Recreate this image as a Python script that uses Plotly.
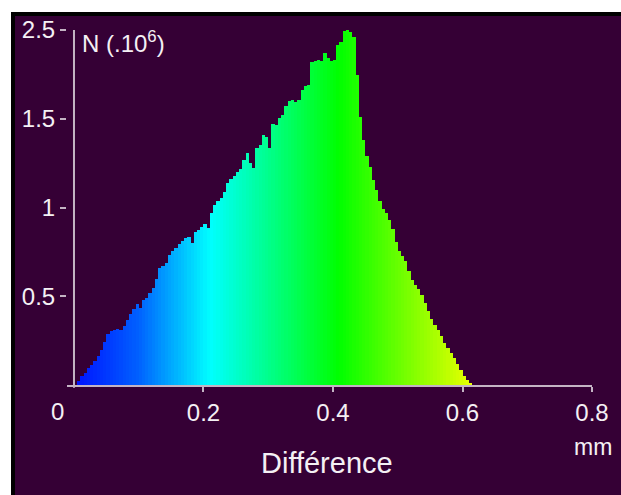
import plotly.graph_objects as go

# bin geometry (mm)
bin_start = 0.005
bin_width = 0.005

# counts per bin (millions, as drawn on the linear axis)
counts = [
    0.025, 0.048, 0.070, 0.098, 0.115, 0.138, 0.166, 0.200, 0.240, 0.290,
    0.306, 0.312, 0.317, 0.312, 0.334, 0.368, 0.402, 0.430, 0.458, 0.435,
    0.480, 0.492, 0.520, 0.548, 0.598, 0.660, 0.671, 0.688, 0.733, 0.756,
    0.772, 0.795, 0.812, 0.829, 0.834, 0.801, 0.862, 0.874, 0.890, 0.907,
    0.885, 0.969, 1.014, 1.037, 1.053, 1.087, 1.138, 1.160, 1.175, 1.200,
    1.216, 1.267, 1.306, 1.250, 1.222, 1.334, 1.351, 1.407, 1.396, 1.334,
    1.469, 1.463, 1.503, 1.520, 1.570, 1.598, 1.604, 1.593, 1.604, 1.660,
    1.683, 1.688, 1.817, 1.823, 1.829, 1.823, 1.868, 1.845, 1.823, 1.829,
    1.913, 1.935, 1.992, 2.014, 1.986, 1.958, 1.744, 1.508, 1.379, 1.289,
    1.227, 1.154, 1.098, 1.037, 0.992, 0.969, 0.930, 0.879, 0.806, 0.756,
    0.728, 0.699, 0.643, 0.593, 0.565, 0.542, 0.508, 0.463, 0.419, 0.374,
    0.340, 0.312, 0.278, 0.239, 0.211, 0.183, 0.154, 0.121, 0.087, 0.053,
    0.031, 0.014,
]
centers = [bin_start + bin_width * (i + 0.5) for i in range(len(counts))]

x_tickvals = [0.2, 0.4, 0.6, 0.8]
x_ticktext = ["0.2", "0.4", "0.6", "0.8"]
y_tickvals = [0.5, 1, 1.5, 2]
y_ticktext = ["0.5", "1", "1.5", "2.5"]

BG = "#350035"
AX = "#c4b4c4"
TXT = "#f4f0f4"
FONT = "Arial, Liberation Sans, sans-serif"

fig = go.Figure(go.Bar(
    x=centers, y=counts, width=bin_width,
    marker=dict(
        color=centers, cmin=0, cmax=0.62,
        colorscale=[[0.0, "#0010ff"], [0.16, "#0060ff"], [0.34, "#00ffff"],
                    [0.66, "#00ff00"], [1.0, "#f0ff00"]],
        line=dict(width=0),
    ),
    hoverinfo="skip",
))

L, R, T, B = 67, 29, 30, 110
W, H = 621, 495
pw, ph = W - L - R, H - T - B


def px(xp):
    return (xp - L) / pw


def py(yp):
    return (H - B - yp) / ph


shapes = [
    dict(type="rect", xref="paper", yref="paper", x0=px(0), x1=px(W), y0=py(0), y1=py(12),
         fillcolor="white", line=dict(width=0), layer="above"),
    dict(type="rect", xref="paper", yref="paper", x0=px(0), x1=px(11), y0=py(0), y1=py(H),
         fillcolor="white", line=dict(width=0), layer="above"),
    dict(type="rect", xref="paper", yref="paper", x0=px(11), x1=px(W), y0=py(12), y1=py(16),
         fillcolor="black", line=dict(width=0), layer="above"),
    dict(type="rect", xref="paper", yref="paper", x0=px(11), x1=px(15), y0=py(12), y1=py(H),
         fillcolor="black", line=dict(width=0), layer="above"),
    dict(type="line", xref="x", yref="paper", x0=0, x1=0, y0=-0.008, y1=1,
         line=dict(color=AX, width=2)),
]

annotations = [
    dict(text="N (.10<sup>6</sup>)", x=px(80), y=py(42), xref="paper", yref="paper",
         xanchor="left", yanchor="middle", showarrow=False, font=dict(size=24, color=TXT, family=FONT)),
    dict(text="0", x=px(57), y=py(412), xref="paper", yref="paper",
         xanchor="center", yanchor="middle", showarrow=False, font=dict(size=24, color=TXT, family=FONT)),
    dict(text="mm", x=px(593), y=py(447), xref="paper", yref="paper",
         xanchor="center", yanchor="middle", showarrow=False, font=dict(size=23, color=TXT, family=FONT)),
    dict(text="Différence", x=px(327), y=py(463), xref="paper", yref="paper",
         xanchor="center", yanchor="middle", showarrow=False, font=dict(size=29, color=TXT, family=FONT)),
]

fig.update_layout(
    width=W, height=H,
    margin=dict(l=L, r=R, t=T, b=B),
    paper_bgcolor=BG, plot_bgcolor=BG,
    bargap=0, showlegend=False,
    shapes=shapes, annotations=annotations,
    xaxis=dict(range=[-0.0108, 0.8], showgrid=False, zeroline=False,
               showline=True, linecolor=AX, linewidth=2,
               tickvals=x_tickvals, ticktext=x_ticktext,
               ticks="outside", ticklen=5, tickwidth=2, tickcolor=AX,
               tickfont=dict(size=24, color=TXT, family=FONT)),
    yaxis=dict(range=[0, 2.0], showgrid=False, zeroline=False,
               showline=False,
               tickvals=y_tickvals, ticktext=y_ticktext,
               ticks="outside", ticklen=6, tickwidth=2, tickcolor=AX,
               tickfont=dict(size=24, color=TXT, family=FONT)),
)

fig.write_html("out.html", config={"displayModeBar": False},
               post_script="document.body.style.margin='0px';document.body.style.padding='0px';")
